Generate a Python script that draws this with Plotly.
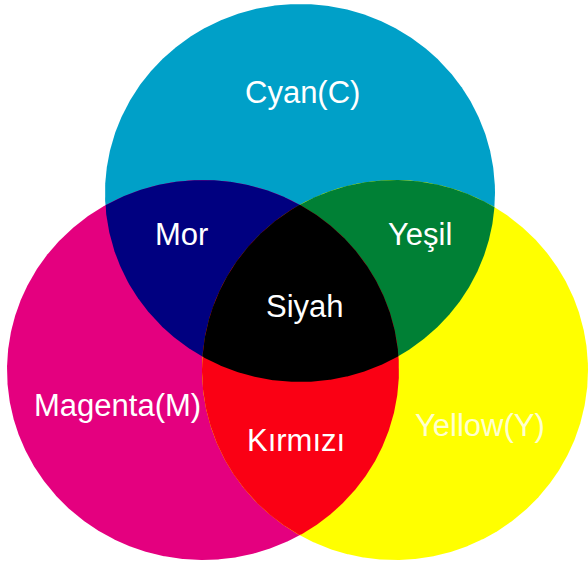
import numpy as np
import plotly.graph_objects as go

# Data: the three ink circles (centre x, centre y, radius x, radius y) in image pixels
circle_names = ["Cyan(C)", "Magenta(M)", "Yellow(Y)"]
circle_cx = [300, 203, 395]
circle_cy = [193, 370, 370]
circle_rx = [195, 196, 193]
circle_ry = [189, 190, 190]

# Overlap region names (Turkish) and which circles form them
overlap_names = ["Mor", "Yeşil", "Kırmızı", "Siyah"]
overlap_sets = [(0, 1), (0, 2), (1, 2), (0, 1, 2)]

# Styles
circle_colors = ["#00A0C8", "#E4007F", "#FFFF00"]
overlap_colors = ["#000080", "#008035", "#FA0014", "#000000"]

label_pos = {
    "Cyan(C)": (302, 92),
    "Magenta(M)": (117, 405),
    "Yellow(Y)": (480, 425),
    "Mor": (181, 234),
    "Yeşil": (420, 234),
    "Kırmızı": (296, 440),
    "Siyah": (305, 306),
}
label_color = {"Yellow(Y)": "rgba(255,255,255,0.82)"}

t = np.linspace(0, 2 * np.pi, 1441)


def ellipse(i):
    return (circle_cx[i] + circle_rx[i] * np.cos(t),
            circle_cy[i] + circle_ry[i] * np.sin(t))


def inside(i, x, y):
    return ((x - circle_cx[i]) / circle_rx[i]) ** 2 + ((y - circle_cy[i]) / circle_ry[i]) ** 2 <= 1.0 + 1e-9


def intersection(ids):
    xs, ys = [], []
    for i in ids:
        ex, ey = ellipse(i)
        m = np.ones_like(ex, dtype=bool)
        for j in ids:
            if j != i:
                m &= inside(j, ex, ey)
        xs.append(ex[m])
        ys.append(ey[m])
    x = np.concatenate(xs)
    y = np.concatenate(ys)
    cx, cy = x.mean(), y.mean()
    order = np.argsort(np.arctan2(y - cy, x - cx))
    x, y = x[order], y[order]
    return np.append(x, x[0]), np.append(y, y[0])


fig = go.Figure()
for i, name in enumerate(circle_names):
    ex, ey = ellipse(i)
    fig.add_trace(go.Scatter(x=ex, y=ey, fill="toself", fillcolor=circle_colors[i],
                             mode="lines", line=dict(width=0, color=circle_colors[i]),
                             hoverinfo="skip", name=name, showlegend=False))
for k, ids in enumerate(overlap_sets):
    px, py = intersection(ids)
    fig.add_trace(go.Scatter(x=px, y=py, fill="toself", fillcolor=overlap_colors[k],
                             mode="lines", line=dict(width=0, color=overlap_colors[k]),
                             hoverinfo="skip", name=overlap_names[k], showlegend=False))

for name in circle_names + overlap_names:
    x, y = label_pos[name]
    fig.add_annotation(x=x, y=y, text=name, showarrow=False,
                       font=dict(family="Liberation Sans, Arial, sans-serif", size=31,
                                 color=label_color.get(name, "#FFFFFF")),
                       xanchor="center", yanchor="middle")

fig.update_layout(
    width=588, height=565,
    margin=dict(l=0, r=0, t=0, b=0),
    paper_bgcolor="white", plot_bgcolor="white",
    xaxis=dict(range=[0, 588], visible=False, fixedrange=True),
    yaxis=dict(range=[565, 0], visible=False, fixedrange=True),
    showlegend=False,
)
fig.write_html("out.html", config={"displayModeBar": False},
               post_script="document.body.style.margin='0';document.body.style.overflow='hidden';")
